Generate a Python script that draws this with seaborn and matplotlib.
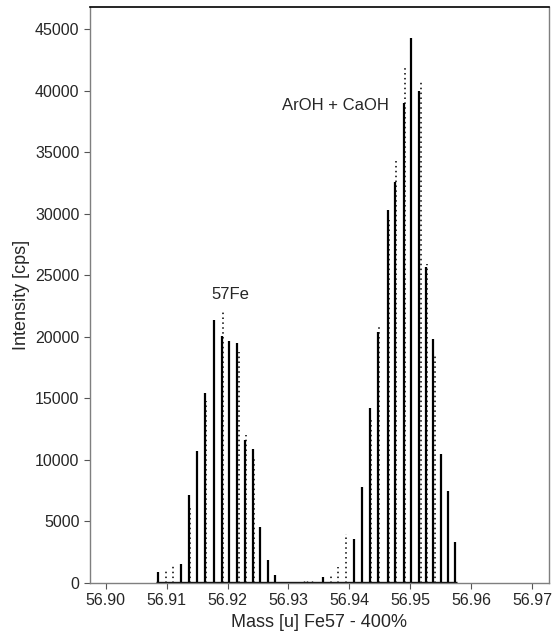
import numpy as np
import pandas as pd
import matplotlib
matplotlib.use("Agg")
import matplotlib.pyplot as plt
import seaborn as sns

# main (solid) sticks: mass [u], intensity [cps]
stick_mass = [56.9085, 56.9124, 56.9137, 56.9150, 56.9163, 56.9177, 56.9191,
              56.9203, 56.9216, 56.9229, 56.9242, 56.9254, 56.9267, 56.9278,
              56.9357, 56.9408, 56.9421, 56.9434, 56.9447, 56.9463, 56.9475,
              56.9489, 56.9502, 56.9515, 56.9526, 56.9538, 56.9550, 56.9562,
              56.9574]
stick_int = [920, 1540, 7150, 10700, 15400, 21400, 20100,
             19700, 19500, 11600, 10900, 4550, 1870, 650,
             500, 3550, 7800, 14200, 20400, 30300, 32600,
             39000, 44300, 40000, 25700, 19800, 10500, 7500,
             3350]

# scattered scan points (drawn dotted), slightly off the main sticks
dot_mass = [56.9099, 56.9111, 56.9139, 56.9165, 56.9193, 56.9218, 56.9231,
            56.9244, 56.9370, 56.9381, 56.9395, 56.9436, 56.9449, 56.9465,
            56.9477, 56.9491, 56.9517, 56.9528, 56.9540]
dot_int = [1140, 1460, 6200, 14800, 22000, 18800, 12000,
           10200, 730, 1300, 4000, 13500, 21000, 29500,
           34500, 41800, 40900, 25900, 18500]

# low-level signal between the two peaks
valley_mass = [56.9289, 56.9302, 56.9315, 56.9320, 56.9325, 56.9330, 56.9338]
valley_int = [60, 100, 120, 100, 130, 150, 200]

# baseline trace of the scan
base_mass = [56.9083, 56.9577]
base_int = [0, 0]

x_ticks = [56.90, 56.91, 56.92, 56.93, 56.94, 56.95, 56.96, 56.97]
y_ticks = list(range(0, 45001, 5000))

sns.set_style("ticks")
plt.rcParams['font.family'] = ['Liberation Sans', 'DejaVu Sans']

fig = plt.figure(figsize=(5.52, 6.31), dpi=100)
ax = fig.add_axes([0.163, 0.076, 0.8316, 0.913])

base = pd.DataFrame({"mass": base_mass, "intensity": base_int})
sns.lineplot(data=base, x="mass", y="intensity", ax=ax, color="black",
             lw=2.4, solid_capstyle="butt")

sticks = pd.DataFrame({"mass": stick_mass, "intensity": stick_int})
ax.vlines(sticks["mass"], 0, sticks["intensity"], color="black", lw=1.6)

dots = pd.DataFrame({"mass": dot_mass, "intensity": dot_int})
ax.vlines(dots["mass"], 0, dots["intensity"], color="black", lw=1.1,
          linestyles=(0, (1, 2.2)))

ax.vlines(valley_mass, 0, valley_int, color="black", lw=1.0)

ax.text(56.9205, 23400, "57Fe", ha="center", va="center", fontsize=12)
ax.text(56.9377, 38800, "ArOH + CaOH", ha="center", va="center", fontsize=12)

ax.set_xlim(56.8974, 56.9728)
ax.set_ylim(0, 46800)
ax.set_xticks(x_ticks)
ax.set_xticklabels([f"{v:.2f}" for v in x_ticks])
ax.set_yticks(y_ticks)
ax.tick_params(labelsize=11.5, length=4, width=0.8, color="#555555")
ax.set_xlabel("Mass [u] Fe57 - 400%", fontsize=13)
ax.set_ylabel("Intensity [cps]", fontsize=13)

for side in ["left", "bottom", "right"]:
    ax.spines[side].set_color("#7f7f7f")
    ax.spines[side].set_linewidth(1.0)
ax.spines["top"].set_color("black")
ax.spines["top"].set_linewidth(1.2)

fig.savefig("out.png", dpi=100)
